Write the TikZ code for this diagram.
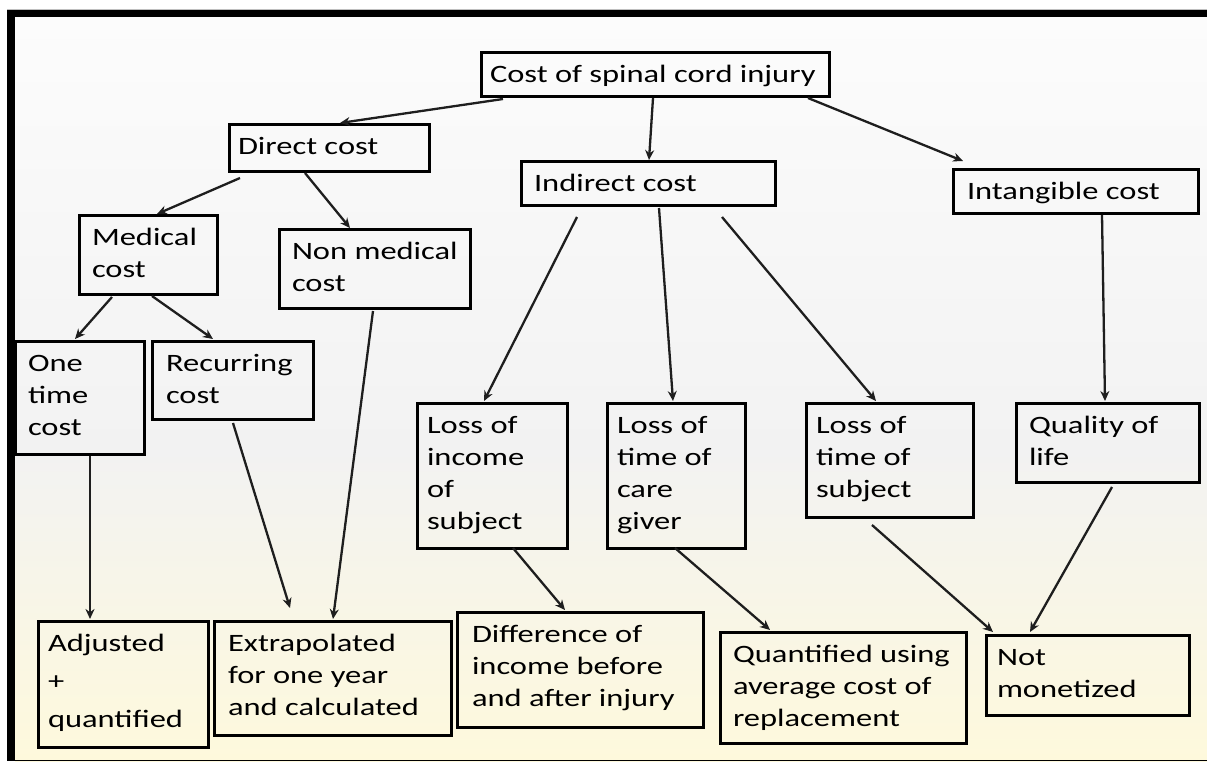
\documentclass[tikz,border=0pt]{standalone}
\usepackage{fontspec}
\setmainfont{Carlito}[FakeStretch=1.3]
\usetikzlibrary{arrows.meta,calc}
\definecolor{arrcol}{RGB}{30,30,30}
\definecolor{bgtop}{RGB}{252,252,252}
\definecolor{bgmid}{RGB}{242,242,242}
\definecolor{bgbot}{RGB}{254,249,220}
\newcommand\bx[7]{% name, x1, y1, x2, y2, inset, text
  \node[box, anchor=north west, minimum width={(#4-#2)*1pt}, minimum height={(#5-#3)*1pt}] (#1) at (#2,#3) {};
  \node[txt, anchor=base west] (#1t) at ($(#1.north west)+(#6,30)$) {\begin{tabular}[t]{@{}l@{}}#7\end{tabular}};
}
\begin{document}
\begin{tikzpicture}[x=1pt,y=-1pt,
  box/.style={draw=black, line width=3pt, inner sep=0pt, outer sep=0pt},
  txt/.style={inner sep=0pt, outer sep=0pt, font=\fontsize{25}{32}\selectfont},
  arr/.style={draw=arrcol, line width=2.3pt, -{Stealth[length=10pt,width=9pt]}}]
\useasboundingbox (0,0) rectangle (1207,761);
% background
\fill[white] (0,0) rectangle (1207,761);
\shade[top color=bgtop, bottom color=bgmid] (15,17) rectangle (1207,450);
\shade[top color=bgmid, bottom color=bgbot] (15,449.5) rectangle (1207,761);
% frame
\fill[gray!50] (7,9) rectangle (1207,10);
\fill[black] (7,10) rectangle (1207,17);
\fill[black] (7,10) rectangle (15,761);
\fill[black] (15,759.5) rectangle (1207,761);
% boxes
\bx{cost}{481}{52}{829}{96}{9}{Cost of spinal cord injury}
\bx{direct}{229}{124}{429}{171}{9}{Direct cost}
\bx{indirect}{521}{161}{775}{205}{13}{Indirect cost}
\bx{intang}{953}{169}{1198}{213}{14}{Intangible cost}
\bx{medical}{79}{215}{217}{294}{13}{Medical\\cost}
\bx{nonmed}{279}{229}{470}{308}{13}{Non medical\\cost}
\bx{onetime}{15}{341}{144}{454}{13}{One\\time\\cost}
\bx{recur}{152}{341}{313}{419}{14}{Recurring\\cost}
\bx{lossinc}{417}{403}{567}{548}{10}{Loss of\\income\\of\\subject}
\bx{care}{607}{403}{745}{548}{10}{Loss of\\time of\\care\\giver}
\bx{losssub}{806}{403}{973}{517}{10}{Loss of\\time of\\subject}
\bx{qol}{1016}{403}{1199}{482}{13}{Quality of\\life}
\bx{adj}{38}{621}{208}{747}{10}{Adjusted\\[6pt]+\\[6pt]quantified}
\bx{extra}{214}{621}{451}{735}{14}{Extrapolated\\for one year\\and calculated}
\bx{diff}{457}{612}{703}{727}{15}{Difference of\\income before\\and after injury}
\bx{quant}{720}{632}{966}{743}{13}{Quantified using\\average cost of\\replacement}
\bx{notmon}{986}{635}{1189}{715}{11}{Not\\monetized}
% connectors
\draw[arr] ($(cost.south west)+(22,3)$) -- ($(direct.north west)+(111,-1)$);
\draw[arr] ($(cost.south west)+(172,2)$) -- ($(indirect.north west)+(128,-1)$);
\draw[arr] ($(cost.south east)+(-21,2)$) -- ($(intang.north west)+(10,-8)$);
\draw[arr] ($(direct.south west)+(11,7)$) -- ($(medical.north west)+(78,-1)$);
\draw[arr] ($(direct.south west)+(76,2)$) -- ($(nonmed.north west)+(71,-1)$);
\draw[arr] ($(medical.south west)+(33,3)$) -- ($(onetime.north west)+(60,-2)$);
\draw[arr] ($(medical.south west)+(73,2)$) -- ($(recur.north west)+(61,-2)$);
\draw[arr] ($(onetime.south west)+(75,2)$) -- ($(adj.north west)+(52,-2)$);
\draw[arr] ($(recur.south west)+(81,4)$) -- ($(extra.north west)+(76,-13)$);
\draw[arr] ($(nonmed.south west)+(94,3)$) -- ($(extra.north west)+(119,-2)$);
\draw[arr] ($(indirect.south west)+(56,12)$) -- ($(lossinc.north west)+(67,-2)$);
\draw[arr] ($(indirect.south west)+(138,3)$) -- ($(care.north west)+(66,-2)$);
\draw[arr] ($(indirect.south west)+(201,12)$) -- ($(losssub.north west)+(70,-2)$);
\draw[arr] ($(intang.south west)+(149,2)$) -- ($(qol.north west)+(89,-2)$);
\draw[arr] ($(lossinc.south west)+(96,0)$) -- ($(diff.north west)+(108,-2)$);
\draw[arr] ($(care.south west)+(68,0)$) -- ($(quant.north west)+(50,-2)$);
\draw[arr] ($(losssub.south west)+(66,8)$) -- ($(notmon.north west)+(7,-3)$);
\draw[arr] ($(qol.south west)+(96,5)$) -- ($(notmon.north west)+(44,-3)$);
\end{tikzpicture}
\end{document}
